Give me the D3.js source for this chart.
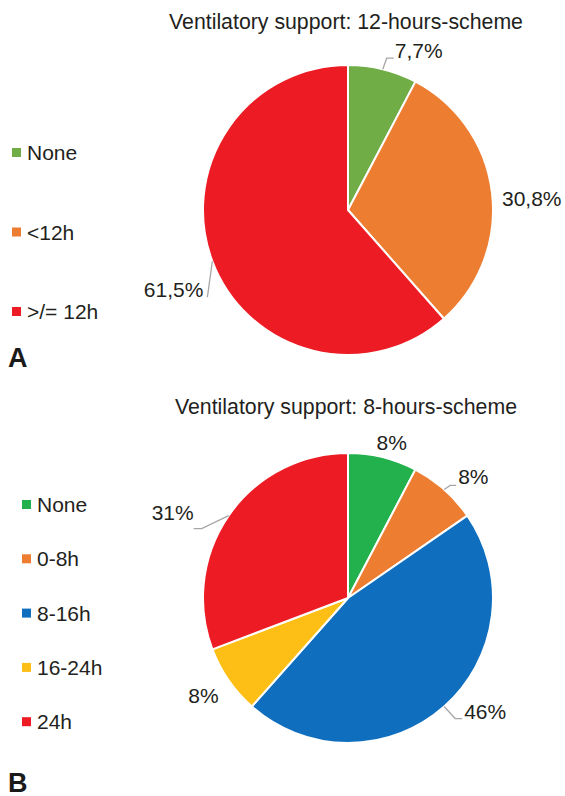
<!DOCTYPE html>
<html>
<head>
<meta charset="utf-8">
<script src="https://cdn.jsdelivr.net/npm/d3@7"></script>
<style>
  body { margin: 0; background: #fff; }
  text { font-family: "Liberation Sans", Arial, sans-serif; fill: #231f20; }
</style>
</head>
<body>
<div id="chart"></div>
<script>
// panel A: 12-hours scheme
var catsA = ["None", "<12h", ">/= 12h"];
var valsA = [7.7, 30.8, 61.5];
var labelsA = ["7,7%", "30,8%", "61,5%"];
var colorsA = ["#70ad47", "#ed7d31", "#ed1c24"];

// panel B: 8-hours scheme
var catsB = ["None", "0-8h", "8-16h", "16-24h", "24h"];
var valsB = [7.7, 7.7, 46.2, 7.7, 30.8];
var labelsB = ["8%", "8%", "46%", "8%", "31%"];
var colorsB = ["#22b14c", "#ed7d31", "#106ebe", "#fdbe16", "#ed1c24"];

var svg = d3.select("#chart").append("svg").attr("width", 565).attr("height", 796);
var R = 145;

// label placement relative to the slice's outer point: [dx, dy, anchor, leader?]
var placeA = [
  { dx: 12, dy: -11, anchor: "start", lead: [[0, 0], [4, -11], [11, -11]] },
  { dx: 10, dy: 13, anchor: "start", lead: null },
  { dx: -9, dy: 36, anchor: "end", lead: [[0, 0], [-5, 36]] }
];
var placeB = [
  { dx: 9, dy: -7, anchor: "middle", lead: null },
  { dx: 14, dy: -5, anchor: "start", lead: [[0, 0], [6, -4], [12, -4]] },
  { dx: 20, dy: 12, anchor: "start", lead: [[0, 0], [11, 12], [18, 12]] },
  { dx: -10, dy: 23, anchor: "end", lead: null },
  { dx: -35, dy: 4, anchor: "end", lead: [[0, 0], [-27, 13], [-35, 13]] }
];

function drawPie(cx, cy, title, titleY, cats, vals, labels, colors, place, legX, legY0, legStep, letter, letterY) {
  var g = svg.append("g").attr("transform", "translate(" + cx + "," + cy + ")");
  var pie = d3.pie().sort(null).value(function (d) { return d; });
  var arc = d3.arc().innerRadius(0).outerRadius(R);
  var arcs = pie(vals);

  g.selectAll("path").data(arcs).enter().append("path")
    .attr("d", arc)
    .attr("fill", function (d, i) { return colors[i]; })
    .attr("stroke", "#fff").attr("stroke-width", 2).attr("stroke-linejoin", "round");

  arcs.forEach(function (d, i) {
    var a = (d.startAngle + d.endAngle) / 2;
    var px = R * Math.sin(a), py = -R * Math.cos(a);
    var p = place[i];
    if (p.lead) {
      g.append("path")
        .attr("d", d3.line()(p.lead.map(function (q) { return [px + q[0], py + q[1]]; })))
        .attr("fill", "none").attr("stroke", "#a6a6a6").attr("stroke-width", 1.3);
    }
    g.append("text").attr("x", px + p.dx).attr("y", py + p.dy)
      .attr("text-anchor", p.anchor).attr("font-size", 21).text(labels[i]);
  });

  svg.append("text").attr("x", cx - 2).attr("y", titleY).attr("text-anchor", "middle")
    .attr("font-size", 21.3).text(title);

  cats.forEach(function (c, i) {
    var y = legY0 + i * legStep;
    svg.append("rect").attr("x", legX).attr("y", y - 5).attr("width", 9).attr("height", 9).attr("fill", colors[i]);
    svg.append("text").attr("x", legX + 15).attr("y", y + 7).attr("font-size", 21).text(c);
  });

  svg.append("text").attr("x", 8).attr("y", letterY).attr("font-size", 27).attr("font-weight", "bold")
    .style("fill", "#1a1a1a").text(letter);
}

drawPie(348, 210, "Ventilatory support: 12-hours-scheme", 29, catsA, valsA, labelsA, colorsA, placeA, 12, 153, 79.5, "A", 367);
drawPie(348, 598, "Ventilatory support: 8-hours-scheme", 414, catsB, valsB, labelsB, colorsB, placeB, 22, 505, 54.3, "B", 792);
</script>
</body>
</html>
